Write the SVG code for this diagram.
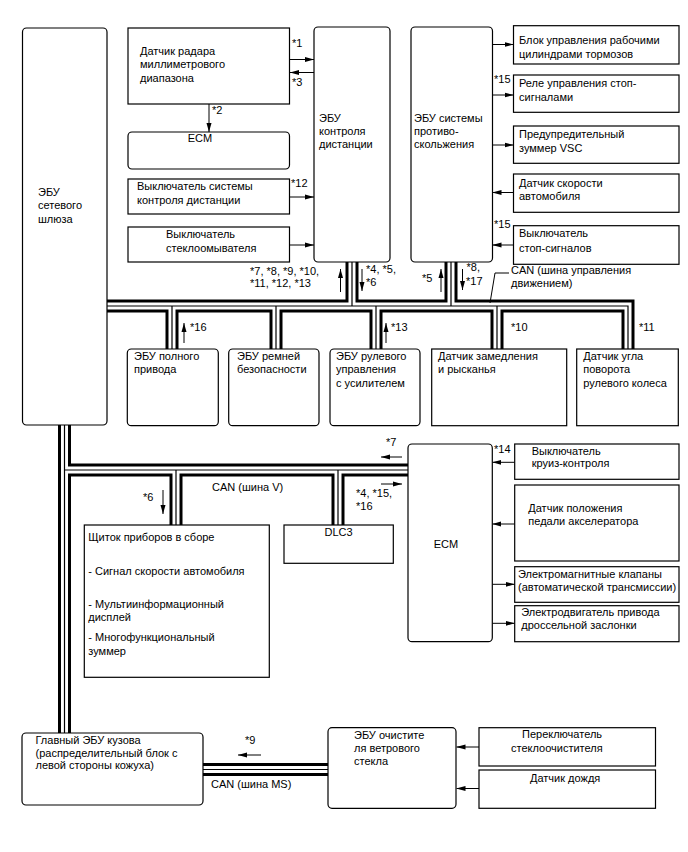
<svg xmlns="http://www.w3.org/2000/svg" width="688" height="852" viewBox="0 0 688 852">
<style>
text{font-family:"Liberation Sans",Arial,sans-serif;font-size:11px;fill:#000}
.box{fill:#fff;stroke:#000;stroke-width:1.2}
.arr{stroke:#000;stroke-width:1;fill:none;marker-end:url(#ah)}
.b1{stroke:#000;stroke-width:13;fill:none;stroke-linejoin:miter}
.b2{stroke:#fff;stroke-width:7;fill:none}
.b3{stroke:#000;stroke-width:1.2;fill:none}
.mid{text-anchor:middle}
</style>
<defs>
<marker id="ah" markerUnits="userSpaceOnUse" markerWidth="9" markerHeight="6" refX="9" refY="3" orient="auto">
<path d="M0,0.5 L9,3 L0,5.5 z" fill="#000"/>
</marker>
<path id="bus" d="M107,306 H628 V349 M172,306 V349 M276,306 V349 M376,306 V349 M497,306 V349 M352,262 V306 M451,262 V306 M64.5,425 V733 M64.5,470 H408 M176,470 V525 M338,470 V525 M203,769.5 H328"/>
</defs>
<rect width="688" height="852" fill="#fff"/>
<g id="connectors">
<use href="#bus" class="b1"/>
<use href="#bus" class="b2"/>
<use href="#bus" class="b3"/>
<line class="arr" x1="290" y1="59.5" x2="314" y2="59.5"/>
<line class="arr" x1="314" y1="72.5" x2="290" y2="72.5"/>
<line class="arr" x1="209" y1="104" x2="209" y2="132"/>
<line class="arr" x1="290" y1="197" x2="314" y2="197"/>
<line class="arr" x1="290" y1="245" x2="314" y2="245"/>
<line class="arr" x1="492.5" y1="44.5" x2="513.5" y2="44.5"/>
<line class="arr" x1="492.5" y1="95" x2="513.5" y2="95"/>
<line class="arr" x1="492.5" y1="145" x2="513.5" y2="145"/>
<line class="arr" x1="513.5" y1="192.5" x2="492.5" y2="192.5"/>
<line class="arr" x1="513.5" y1="245" x2="492.5" y2="245"/>
<line class="arr" x1="340.5" y1="292" x2="340.5" y2="269"/>
<line class="arr" x1="362" y1="269" x2="362" y2="291"/>
<line class="arr" x1="441" y1="292" x2="441" y2="269"/>
<line class="arr" x1="462.5" y1="269" x2="462.5" y2="290"/>
<line class="arr" x1="184" y1="343" x2="184" y2="323"/>
<line class="arr" x1="386" y1="343" x2="386" y2="323"/>
<line class="arr" x1="163" y1="490" x2="163" y2="514"/>
<line class="arr" x1="402" y1="457" x2="381" y2="457"/>
<line class="arr" x1="381" y1="484" x2="402" y2="484"/>
<line class="arr" x1="514.7" y1="462.3" x2="492.3" y2="462.3"/>
<line class="arr" x1="514.7" y1="524" x2="492.3" y2="524"/>
<line class="arr" x1="492.3" y1="584.3" x2="514.7" y2="584.3"/>
<line class="arr" x1="492.3" y1="623.3" x2="514.7" y2="623.3"/>
<line class="arr" x1="261" y1="755" x2="238" y2="755"/>
<line class="arr" x1="479" y1="747" x2="456.5" y2="747"/>
<line class="arr" x1="479" y1="788.5" x2="456.5" y2="788.5"/>
<polyline points="509,273 495,273 490,303" fill="none" stroke="#000" stroke-width="1"/>
<text x="292" y="47">*1</text>
<text x="292" y="86">*3</text>
<text x="212" y="114">*2</text>
<text x="291" y="186.5">*12</text>
<text x="494" y="83">*15</text>
<text x="494" y="228">*15</text>
<text x="250" y="274.5">*7, *8, *9, *10,</text>
<text x="250" y="287">*11, *12, *13</text>
<text x="366" y="273.3">*4, *5,</text>
<text x="366" y="286">*6</text>
<text x="422" y="282">*5</text>
<text x="466.5" y="270.7">*8,</text>
<text x="466" y="285">*17</text>
<text x="511" y="274">CAN (шина управления</text>
<text x="511" y="287.3">движением)</text>
<text x="190" y="331">*16</text>
<text x="391" y="331">*13</text>
<text x="511" y="331">*10</text>
<text x="639" y="331">*11</text>
<text x="386" y="446">*7</text>
<text x="494" y="453">*14</text>
<text x="143" y="500.7">*6</text>
<text x="212" y="491">CAN (шина V)</text>
<text x="356" y="497">*4, *15,</text>
<text x="356" y="510">*16</text>
<text x="245" y="744">*9</text>
<text x="211" y="788">CAN (шина MS)</text>
</g>
<g id="n-gateway"><rect class="box" x="22.5" y="28" width="84.5" height="397" rx="4"/>
<text x="38" y="195.5">ЭБУ</text><text x="38" y="209">сетевого</text><text x="38" y="223">шлюза</text></g>
<g id="n-radar"><rect class="box" x="128" y="28" width="161.5" height="76"/>
<text x="140" y="54.7">Датчик радара</text><text x="140" y="68">миллиметрового</text><text x="140" y="81.7">диапазона</text></g>
<g id="n-ecm-top"><rect class="box" x="128" y="132" width="161.5" height="37" rx="4"/>
<text class="mid" x="200" y="142">ECM</text></g>
<g id="n-dist-switch"><rect class="box" x="128" y="179" width="161.5" height="35"/>
<text x="137" y="190">Выключатель системы</text><text x="137" y="203.5">контроля дистанции</text></g>
<g id="n-washer"><rect class="box" x="128" y="227" width="161.5" height="35"/>
<text x="166" y="237.5">Выключатель</text><text x="166" y="251.5">стеклоомывателя</text></g>
<g id="n-dist-ecu"><rect class="box" x="314" y="27" width="76" height="235" rx="4"/>
<text x="319" y="122">ЭБУ</text><text x="319" y="135">контроля</text><text x="319" y="148">дистанции</text></g>
<g id="n-skid-ecu"><rect class="box" x="411" y="27" width="81.5" height="235" rx="4"/>
<text x="414" y="122">ЭБУ системы</text><text x="414" y="135">противо-</text><text x="414" y="148">скольжения</text></g>
<g id="n-brake-act"><rect class="box" x="513.5" y="25.7" width="165.5" height="38.3"/>
<text x="519" y="44">Блок управления рабочими</text><text x="519" y="57.5">цилиндрами тормозов</text></g>
<g id="n-stop-relay"><rect class="box" x="513.5" y="75" width="165.5" height="37.3"/>
<text x="519" y="87.3">Реле управления стоп-</text><text x="519" y="100.7">сигналами</text></g>
<g id="n-buzzer"><rect class="box" x="513.5" y="126" width="165.5" height="37.3"/>
<text x="519" y="138">Предупредительный</text><text x="519" y="151.7">зуммер VSC</text></g>
<g id="n-speed"><rect class="box" x="513.5" y="174" width="165.5" height="38.3"/>
<text x="519" y="187.3">Датчик скорости</text><text x="519" y="200">автомобиля</text></g>
<g id="n-stop-switch"><rect class="box" x="513.5" y="225.7" width="165.5" height="38.6"/>
<text x="519" y="237.3">Выключатель</text><text x="519" y="251.7">стоп-сигналов</text></g>
<g id="n-4wd"><rect class="box" x="127.3" y="349" width="91" height="76.7" rx="4"/>
<text x="134" y="360">ЭБУ полного</text><text x="134" y="373">привода</text></g>
<g id="n-seatbelt"><rect class="box" x="228.7" y="349" width="90.3" height="76.7" rx="4"/>
<text x="237" y="360">ЭБУ ремней</text><text x="237" y="373">безопасности</text></g>
<g id="n-eps"><rect class="box" x="330" y="349" width="90" height="76.7" rx="4"/>
<text x="336" y="360">ЭБУ рулевого</text><text x="336" y="373">управления</text><text x="336" y="386.7">с усилителем</text></g>
<g id="n-yaw"><rect class="box" x="431.7" y="349" width="135" height="76.7"/>
<text x="438" y="360">Датчик замедления</text><text x="438" y="373">и рысканья</text></g>
<g id="n-angle"><rect class="box" x="576.7" y="349" width="101.6" height="76.7"/>
<text x="583.3" y="360">Датчик угла</text><text x="583.3" y="373">поворота</text><text x="583.3" y="386.7">рулевого колеса</text></g>
<g id="n-meter"><rect class="box" x="84.3" y="525" width="185" height="152.3"/>
<text x="88.3" y="540.7">Щиток приборов в сборе</text>
<text x="88.3" y="575">- Сигнал скорости автомобиля</text>
<text x="88.3" y="608">- Мультиинформационный</text><text x="88.3" y="621.3">дисплей</text>
<text x="88.3" y="641.3">- Многофункциональный</text><text x="88.3" y="654.7">зуммер</text></g>
<g id="n-dlc3"><rect class="box" x="284" y="525" width="109.3" height="38.3"/>
<text class="mid" x="338.5" y="536">DLC3</text></g>
<g id="n-ecm"><rect class="box" x="408" y="444" width="84.3" height="197.7" rx="4"/>
<text class="mid" x="446" y="548">ECM</text></g>
<g id="n-cruise"><rect class="box" x="514.7" y="444" width="164.3" height="35.3"/>
<text x="531.7" y="454.7">Выключатель</text><text x="531.7" y="467.3">круиз-контроля</text></g>
<g id="n-accel"><rect class="box" x="514.7" y="485" width="164.3" height="76"/>
<text x="528.3" y="512.3">Датчик положения</text><text x="528.3" y="525">педали акселератора</text></g>
<g id="n-solenoid"><rect class="box" x="514.7" y="566.7" width="164.3" height="35.6"/>
<text x="518" y="578">Электромагнитные клапаны</text><text x="518" y="590.7">(автоматической трансмиссии)</text></g>
<g id="n-throttle"><rect class="box" x="514.7" y="605.7" width="164.3" height="36"/>
<text x="521.3" y="616.3">Электродвигатель привода</text><text x="521.3" y="629">дроссельной заслонки</text></g>
<g id="n-body"><rect class="box" x="22" y="733" width="181" height="72" rx="4"/>
<text x="35.5" y="744">Главный ЭБУ кузова</text><text x="35.5" y="756.7">(распределительный блок с</text><text x="35.5" y="769">левой стороны кожуха)</text></g>
<g id="n-wiper-ecu"><rect class="box" x="328" y="727.7" width="128" height="80.6" rx="4"/>
<text x="354" y="739">ЭБУ очистите</text><text x="354" y="752.3">ля ветрового</text><text x="354" y="765">стекла</text></g>
<g id="n-wiper-sw"><rect class="box" x="479" y="727.7" width="176.5" height="38.3"/>
<text x="522" y="738.3">Переключатель</text><text x="511" y="751.7">стеклоочистителя</text></g>
<g id="n-rain"><rect class="box" x="479" y="770" width="176.5" height="38.3"/>
<text x="530" y="782.3">Датчик дождя</text></g>
</svg>
